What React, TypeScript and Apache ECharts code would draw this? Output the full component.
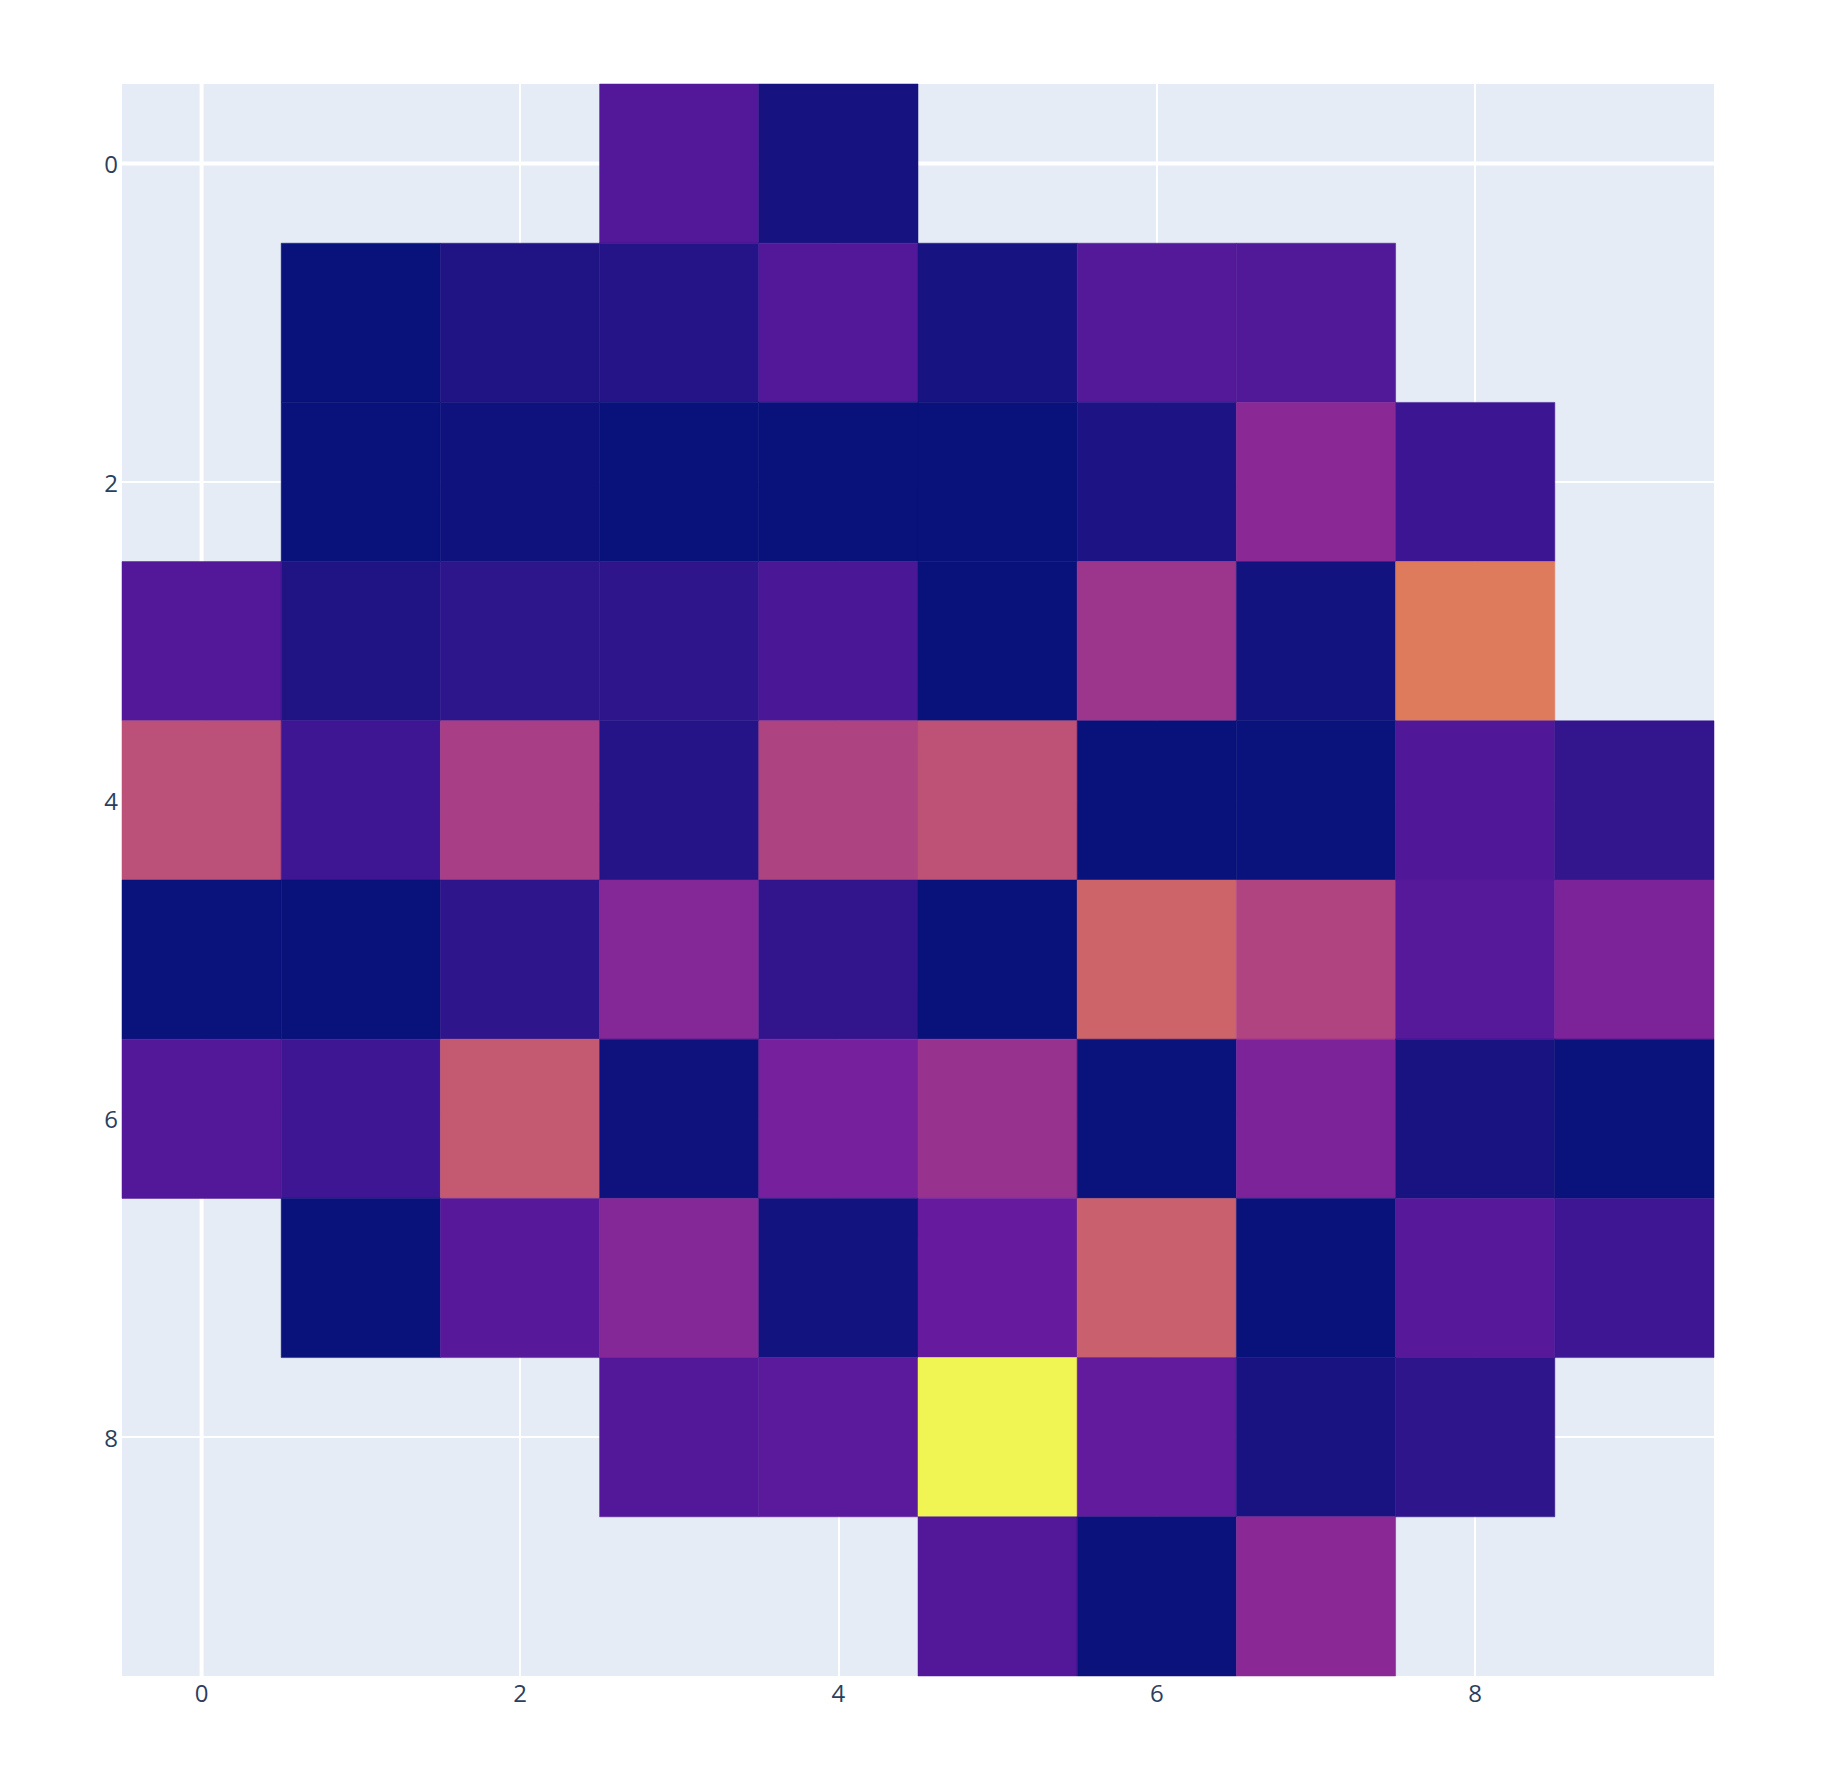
import React, { useEffect, useRef } from "react";
import * as echarts from "echarts";

// Column (x) and row (y) indices of the grid
const xIndices = [0, 1, 2, 3, 4, 5, 6, 7, 8, 9];
const yIndices = [0, 1, 2, 3, 4, 5, 6, 7, 8, 9];
const tickValues = [0, 2, 4, 6, 8];

// Cell values per row (null = empty cell), estimated from the colours
const row0 = [null, null, null, 13.9, 2.5, null, null, null, null, null];
const row1 = [null, 0, 4.2, 5.1, 13.9, 2.6, 14.2, 13.6, null, null];
const row2 = [null, 0, 1.2, 0, 0.2, 0.2, 3.7, 27.8, 9.1, null];
const row3 = [13.9, 4.2, 6.5, 6.7, 12.0, 0.2, 33.2, 1.8, 60.0, null];
const row4 = [43.8, 9.5, 37.1, 5.1, 39.0, 44.6, 0.1, 0.4, 13.4, 7.5];
const row5 = [0.3, 0, 6.7, 26.2, 7.4, 0.1, 51.0, 39.7, 14.8, 24.3];
const row6 = [14.1, 9.5, 47.3, 1.2, 22.4, 31.9, 0.4, 24.1, 2.8, 0.4];
const row7 = [null, 0, 15.0, 26.2, 1.8, 18.4, 49.2, 0, 15.0, 9.5];
const row8 = [null, null, null, 13.9, 15.9, 100, 17.7, 3.0, 6.7, null];
const row9 = [null, null, null, null, null, 13.9, 0.5, 27.8, null, null];

const rows = [row0, row1, row2, row3, row4, row5, row6, row7, row8, row9];

const palette = [
  "#08127a",
  "#411694",
  "#6d1ca0",
  "#922d92",
  "#b14580",
  "#cb626b",
  "#df7b5d",
  "#e78a57",
  "#efa94d",
  "#f3d04c",
  "#f0f553",
];

export default function App() {
  const ref = useRef<HTMLDivElement>(null);

  useEffect(() => {
    if (!ref.current) return;
    const chart = echarts.init(ref.current, undefined, { renderer: "svg" });

    const cells: number[][] = [];
    rows.forEach((row, yi) => {
      row.forEach((v, xi) => {
        if (v !== null && v !== undefined) cells.push([xIndices[xi], yIndices[yi], v]);
      });
    });
    const allVals = cells.map((c) => c[2]);

    const axisCommon = {
      type: "value" as const,
      min: -0.5,
      max: 9.5,
      axisLine: { show: false },
      axisTick: { show: false, customValues: tickValues },
      axisLabel: {
        customValues: tickValues,
        color: "#2a3f5f",
        fontSize: 24,
        fontFamily: "'Open Sans', verdana, arial, sans-serif",
        margin: 4,
      },
      splitLine: { show: true, lineStyle: { color: "#ffffff", width: 2 } },
    };

    chart.setOption({
      animation: false,
      backgroundColor: "#ffffff",
      grid: {
        left: 122,
        top: 84,
        width: 1592,
        height: 1592,
        show: true,
        backgroundColor: "#E5ECF6",
        borderWidth: 0,
      },
      xAxis: { ...axisCommon },
      yAxis: { ...axisCommon, inverse: true },
      visualMap: {
        type: "continuous",
        show: false,
        seriesIndex: 1,
        dimension: 2,
        min: Math.min(...allVals),
        max: Math.max(...allVals),
        inRange: { color: palette },
      },
      series: [
        {
          // zero lines (thicker white lines at x = 0 and y = 0), under the cells
          type: "custom",
          z: 1,
          silent: true,
          encode: { x: 0, y: 1 },
          data: [[0, 0]],
          renderItem: (params: any, api: any) => {
            const x0 = api.value(0);
            const y0 = api.value(1);
            const top = api.coord([x0, -0.5]);
            const bottom = api.coord([x0, 9.5]);
            const left = api.coord([-0.5, y0]);
            const right = api.coord([9.5, y0]);
            const style = { stroke: "#ffffff", lineWidth: 4 };
            return {
              type: "group",
              children: [
                {
                  type: "line",
                  shape: { x1: top[0], y1: top[1], x2: bottom[0], y2: bottom[1] },
                  style,
                },
                {
                  type: "line",
                  shape: { x1: left[0], y1: left[1], x2: right[0], y2: right[1] },
                  style,
                },
              ],
            };
          },
        },
        {
          type: "custom",
          z: 2,
          encode: { x: 0, y: 1 },
          data: cells,
          renderItem: (params: any, api: any) => {
            const x = api.value(0);
            const y = api.value(1);
            const p0 = api.coord([x - 0.5, y - 0.5]);
            const p1 = api.coord([x + 0.5, y + 0.5]);
            const color = api.visual("color");
            return {
              type: "rect",
              shape: {
                x: Math.min(p0[0], p1[0]),
                y: Math.min(p0[1], p1[1]),
                width: Math.abs(p1[0] - p0[0]),
                height: Math.abs(p1[1] - p0[1]),
              },
              style: { fill: color, stroke: color, lineWidth: 0.5 },
            };
          },
        },
      ],
    });

    return () => chart.dispose();
  }, []);

  return (
    <div
      ref={ref}
      style={{ position: "fixed", left: 0, top: 0, width: 1822, height: 1792 }}
    />
  );
}
